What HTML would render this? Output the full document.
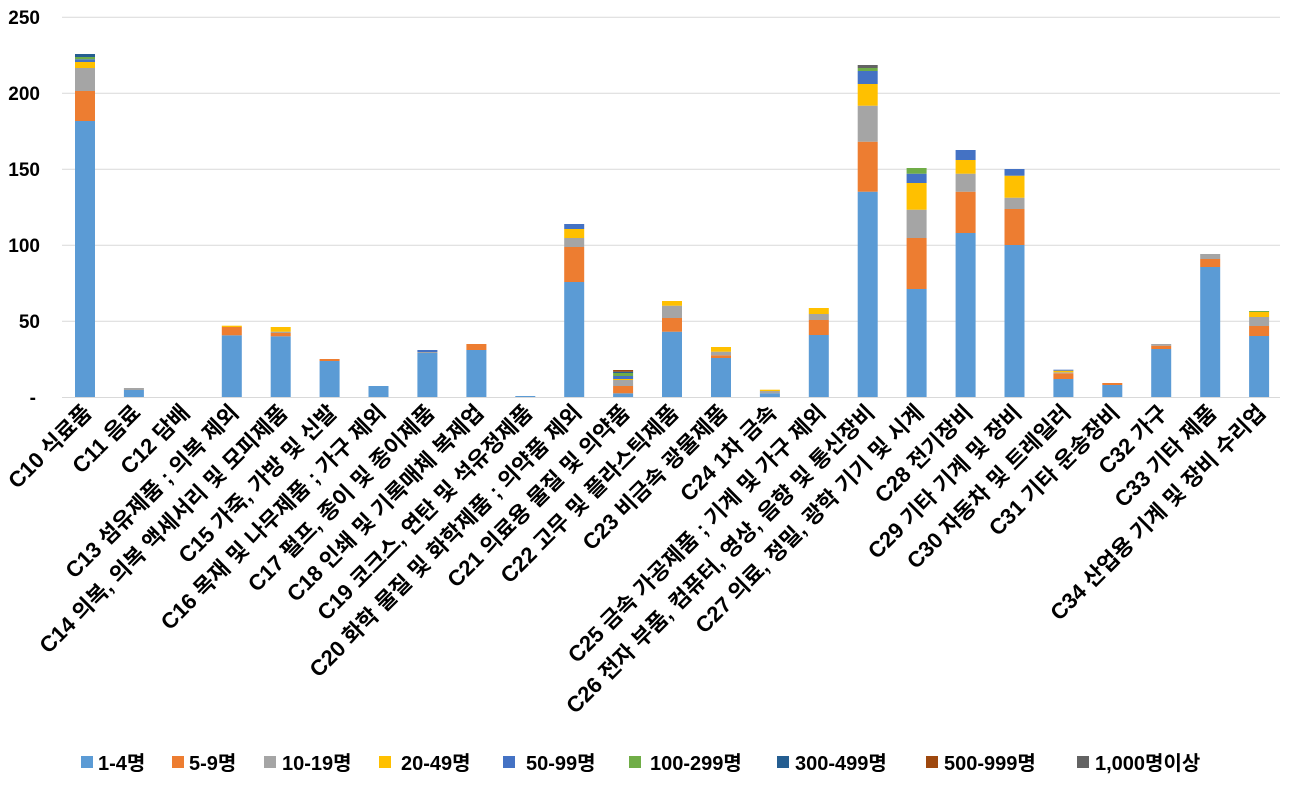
<!DOCTYPE html>
<html><head><meta charset="utf-8"><style>
html,body{margin:0;padding:0;background:#fff;}
svg text{font-family:"Liberation Sans","Noto Sans CJK KR",sans-serif;font-weight:bold;font-size:19px;fill:#000;}
svg .cat text{font-size:22px;}
svg .leg text{font-size:20px;}
</style></head><body>
<svg width="1298" height="785" viewBox="0 0 1298 785" xmlns="http://www.w3.org/2000/svg">
<g stroke="#d9d9d9" stroke-width="1">
<line x1="62" y1="17.3" x2="1280" y2="17.3"/>
<line x1="62" y1="93.3" x2="1280" y2="93.3"/>
<line x1="62" y1="169.3" x2="1280" y2="169.3"/>
<line x1="62" y1="245.3" x2="1280" y2="245.3"/>
<line x1="62" y1="321.3" x2="1280" y2="321.3"/>
<line x1="62" y1="397.5" x2="1280" y2="397.5"/>
</g>
<g text-anchor="end">
<text x="40" y="24">250</text>
<text x="40" y="100">200</text>
<text x="40" y="176">150</text>
<text x="40" y="252">100</text>
<text x="40" y="328">50</text>
<text x="36" y="404">-</text>
</g>
<g transform="translate(75,0)">
<rect x="0" y="121" width="20" height="276" fill="#5B9BD5"/>
<rect x="0" y="91" width="20" height="30" fill="#ED7D31"/>
<rect x="0" y="68" width="20" height="23" fill="#A5A5A5"/>
<rect x="0" y="62" width="20" height="6" fill="#FFC000"/>
<rect x="0" y="59.3" width="20" height="2.7" fill="#4472C4"/>
<rect x="0" y="57" width="20" height="2.3" fill="#70AD47"/>
<rect x="0" y="54" width="20" height="3" fill="#255E91"/>
</g>
<g transform="translate(123.9,0)">
<rect x="0" y="390" width="20" height="7" fill="#5B9BD5"/>
<rect x="0" y="388" width="20" height="2" fill="#A5A5A5"/>
</g>
<g transform="translate(221.8,0)">
<rect x="0" y="335.3" width="20" height="61.7" fill="#5B9BD5"/>
<rect x="0" y="327" width="20" height="8.3" fill="#ED7D31"/>
<rect x="0" y="325.7" width="20" height="1.3" fill="#FFC000"/>
</g>
<g transform="translate(270.7,0)">
<rect x="0" y="336.3" width="20" height="60.7" fill="#5B9BD5"/>
<rect x="0" y="333" width="20" height="3.3" fill="#ED7D31"/>
<rect x="0" y="331.7" width="20" height="1.3" fill="#A5A5A5"/>
<rect x="0" y="327" width="20" height="4.7" fill="#FFC000"/>
</g>
<g transform="translate(319.6,0)">
<rect x="0" y="361" width="20" height="36" fill="#5B9BD5"/>
<rect x="0" y="359" width="20" height="2" fill="#ED7D31"/>
</g>
<g transform="translate(368.5,0)">
<rect x="0" y="386" width="20" height="11" fill="#5B9BD5"/>
</g>
<g transform="translate(417.4,0)">
<rect x="0" y="353" width="20" height="44" fill="#5B9BD5"/>
<rect x="0" y="352" width="20" height="1" fill="#A5A5A5"/>
<rect x="0" y="350" width="20" height="2" fill="#4472C4"/>
</g>
<g transform="translate(466.4,0)">
<rect x="0" y="350" width="20" height="47" fill="#5B9BD5"/>
<rect x="0" y="344" width="20" height="6" fill="#ED7D31"/>
</g>
<g transform="translate(515.3,0)">
<rect x="0" y="396" width="20" height="1" fill="#5B9BD5"/>
</g>
<g transform="translate(564.2,0)">
<rect x="0" y="282" width="20" height="115" fill="#5B9BD5"/>
<rect x="0" y="247" width="20" height="35" fill="#ED7D31"/>
<rect x="0" y="238" width="20" height="9" fill="#A5A5A5"/>
<rect x="0" y="229" width="20" height="9" fill="#FFC000"/>
<rect x="0" y="224" width="20" height="5" fill="#4472C4"/>
</g>
<g transform="translate(613.1,0)">
<rect x="0" y="393.3" width="20" height="3.7" fill="#5B9BD5"/>
<rect x="0" y="386" width="20" height="7.3" fill="#ED7D31"/>
<rect x="0" y="380" width="20" height="6" fill="#A5A5A5"/>
<rect x="0" y="379" width="20" height="1" fill="#FFC000"/>
<rect x="0" y="376" width="20" height="3" fill="#4472C4"/>
<rect x="0" y="373" width="20" height="3" fill="#70AD47"/>
<rect x="0" y="371.7" width="20" height="1.3" fill="#255E91"/>
<rect x="0" y="370" width="20" height="1.7" fill="#9E480E"/>
</g>
<g transform="translate(662,0)">
<rect x="0" y="331.7" width="20" height="65.3" fill="#5B9BD5"/>
<rect x="0" y="318" width="20" height="13.7" fill="#ED7D31"/>
<rect x="0" y="305.7" width="20" height="12.3" fill="#A5A5A5"/>
<rect x="0" y="301" width="20" height="4.7" fill="#FFC000"/>
</g>
<g transform="translate(711,0)">
<rect x="0" y="358" width="20" height="39" fill="#5B9BD5"/>
<rect x="0" y="355.3" width="20" height="2.7" fill="#ED7D31"/>
<rect x="0" y="351.7" width="20" height="3.6" fill="#A5A5A5"/>
<rect x="0" y="347" width="20" height="4.7" fill="#FFC000"/>
</g>
<g transform="translate(759.9,0)">
<rect x="0" y="393.3" width="20" height="3.7" fill="#5B9BD5"/>
<rect x="0" y="391" width="20" height="2.3" fill="#A5A5A5"/>
<rect x="0" y="389.7" width="20" height="1.3" fill="#FFC000"/>
</g>
<g transform="translate(808.8,0)">
<rect x="0" y="335" width="20" height="62" fill="#5B9BD5"/>
<rect x="0" y="320" width="20" height="15" fill="#ED7D31"/>
<rect x="0" y="314" width="20" height="6" fill="#A5A5A5"/>
<rect x="0" y="308" width="20" height="6" fill="#FFC000"/>
</g>
<g transform="translate(857.7,0)">
<rect x="0" y="191.7" width="20" height="205.3" fill="#5B9BD5"/>
<rect x="0" y="141.7" width="20" height="50" fill="#ED7D31"/>
<rect x="0" y="105.7" width="20" height="36" fill="#A5A5A5"/>
<rect x="0" y="84" width="20" height="21.7" fill="#FFC000"/>
<rect x="0" y="71" width="20" height="13" fill="#4472C4"/>
<rect x="0" y="68" width="20" height="3" fill="#70AD47"/>
<rect x="0" y="65" width="20" height="3" fill="#636363"/>
</g>
<g transform="translate(906.6,0)">
<rect x="0" y="289" width="20" height="108" fill="#5B9BD5"/>
<rect x="0" y="238" width="20" height="51" fill="#ED7D31"/>
<rect x="0" y="209.7" width="20" height="28.3" fill="#A5A5A5"/>
<rect x="0" y="183" width="20" height="26.7" fill="#FFC000"/>
<rect x="0" y="173.7" width="20" height="9.3" fill="#4472C4"/>
<rect x="0" y="168" width="20" height="5.7" fill="#70AD47"/>
</g>
<g transform="translate(955.6,0)">
<rect x="0" y="233" width="20" height="164" fill="#5B9BD5"/>
<rect x="0" y="191.7" width="20" height="41.3" fill="#ED7D31"/>
<rect x="0" y="173.7" width="20" height="18" fill="#A5A5A5"/>
<rect x="0" y="160" width="20" height="13.7" fill="#FFC000"/>
<rect x="0" y="150" width="20" height="10" fill="#4472C4"/>
</g>
<g transform="translate(1004.5,0)">
<rect x="0" y="245" width="20" height="152" fill="#5B9BD5"/>
<rect x="0" y="209" width="20" height="36" fill="#ED7D31"/>
<rect x="0" y="197.7" width="20" height="11.3" fill="#A5A5A5"/>
<rect x="0" y="175.7" width="20" height="22" fill="#FFC000"/>
<rect x="0" y="169" width="20" height="6.7" fill="#4472C4"/>
</g>
<g transform="translate(1053.4,0)">
<rect x="0" y="379" width="20" height="18" fill="#5B9BD5"/>
<rect x="0" y="373.3" width="20" height="5.7" fill="#ED7D31"/>
<rect x="0" y="372.3" width="20" height="1" fill="#A5A5A5"/>
<rect x="0" y="370.7" width="20" height="1.6" fill="#FFC000"/>
<rect x="0" y="369.7" width="20" height="1" fill="#4472C4"/>
</g>
<g transform="translate(1102.3,0)">
<rect x="0" y="385" width="20" height="12" fill="#5B9BD5"/>
<rect x="0" y="383" width="20" height="2" fill="#ED7D31"/>
</g>
<g transform="translate(1151.2,0)">
<rect x="0" y="349" width="20" height="48" fill="#5B9BD5"/>
<rect x="0" y="345.7" width="20" height="3.3" fill="#ED7D31"/>
<rect x="0" y="344" width="20" height="1.7" fill="#A5A5A5"/>
</g>
<g transform="translate(1200.2,0)">
<rect x="0" y="267" width="20" height="130" fill="#5B9BD5"/>
<rect x="0" y="259" width="20" height="8" fill="#ED7D31"/>
<rect x="0" y="254" width="20" height="5" fill="#A5A5A5"/>
</g>
<g transform="translate(1249.1,0)">
<rect x="0" y="336" width="20" height="61" fill="#5B9BD5"/>
<rect x="0" y="326" width="20" height="10" fill="#ED7D31"/>
<rect x="0" y="317" width="20" height="9" fill="#A5A5A5"/>
<rect x="0" y="312" width="20" height="5" fill="#FFC000"/>
<rect x="0" y="311" width="20" height="1" fill="#70AD47"/>
</g>
<g class="cat" text-anchor="end">
<text transform="translate(93,414) rotate(-45)">C10 식료품</text>
<text transform="translate(142,414) rotate(-45)">C11 음료</text>
<text transform="translate(191,414) rotate(-45)">C12 담배</text>
<text transform="translate(240,414) rotate(-45)">C13 섬유제품 ; 의복 제외</text>
<text transform="translate(289,414) rotate(-45)">C14 의복, 의복 액세서리 및 모피제품</text>
<text transform="translate(338,414) rotate(-45)">C15 가죽, 가방 및 신발</text>
<text transform="translate(387,414) rotate(-45)">C16 목재 및 나무제품 ; 가구 제외</text>
<text transform="translate(436,414) rotate(-45)">C17 펄프, 종이 및 종이제품</text>
<text transform="translate(485,414) rotate(-45)">C18 인쇄 및 기록매체 복제업</text>
<text transform="translate(534,414) rotate(-45)">C19 코크스, 연탄 및 석유정제품</text>
<text transform="translate(583,414) rotate(-45)">C20 화학 물질 및 화학제품 ; 의약품 제외</text>
<text transform="translate(631,414) rotate(-45)">C21 의료용 물질 및 의약품</text>
<text transform="translate(680,414) rotate(-45)">C22 고무 및 플라스틱제품</text>
<text transform="translate(729,414) rotate(-45)">C23 비금속 광물제품</text>
<text transform="translate(778,414) rotate(-45)">C24 1차 금속</text>
<text transform="translate(827,414) rotate(-45)">C25 금속 가공제품 ; 기계 및 가구 제외</text>
<text transform="translate(876,414) rotate(-45)">C26 전자 부품, 컴퓨터, 영상, 음향 및 통신장비</text>
<text transform="translate(925,414) rotate(-45)">C27 의료, 정밀, 광학 기기 및 시계</text>
<text transform="translate(974,414) rotate(-45)">C28 전기장비</text>
<text transform="translate(1023,414) rotate(-45)">C29 기타 기계 및 장비</text>
<text transform="translate(1072,414) rotate(-45)">C30 자동차 및 트레일러</text>
<text transform="translate(1121,414) rotate(-45)">C31 기타 운송장비</text>
<text transform="translate(1169,414) rotate(-45)">C32 가구</text>
<text transform="translate(1218,414) rotate(-45)">C33 기타 제품</text>
<text transform="translate(1267,414) rotate(-45)">C34 산업용 기계 및 장비 수리업</text>
</g>
<g class="leg">
<rect x="81" y="756" width="12" height="12" fill="#5B9BD5"/><text x="98" y="770">1-4명</text>
<rect x="172" y="756" width="12" height="12" fill="#ED7D31"/><text x="189" y="770">5-9명</text>
<rect x="264" y="756" width="12" height="12" fill="#A5A5A5"/><text x="282" y="770">10-19명</text>
<rect x="379" y="756" width="12" height="12" fill="#FFC000"/><text x="401" y="770">20-49명</text>
<rect x="503" y="756" width="12" height="12" fill="#4472C4"/><text x="526" y="770">50-99명</text>
<rect x="629" y="756" width="12" height="12" fill="#70AD47"/><text x="650" y="770">100-299명</text>
<rect x="777" y="756" width="12" height="12" fill="#255E91"/><text x="795" y="770">300-499명</text>
<rect x="926" y="756" width="12" height="12" fill="#9E480E"/><text x="944" y="770">500-999명</text>
<rect x="1077" y="756" width="12" height="12" fill="#636363"/><text x="1095" y="770">1,000명이상</text>
</g>
</svg>
</body></html>
